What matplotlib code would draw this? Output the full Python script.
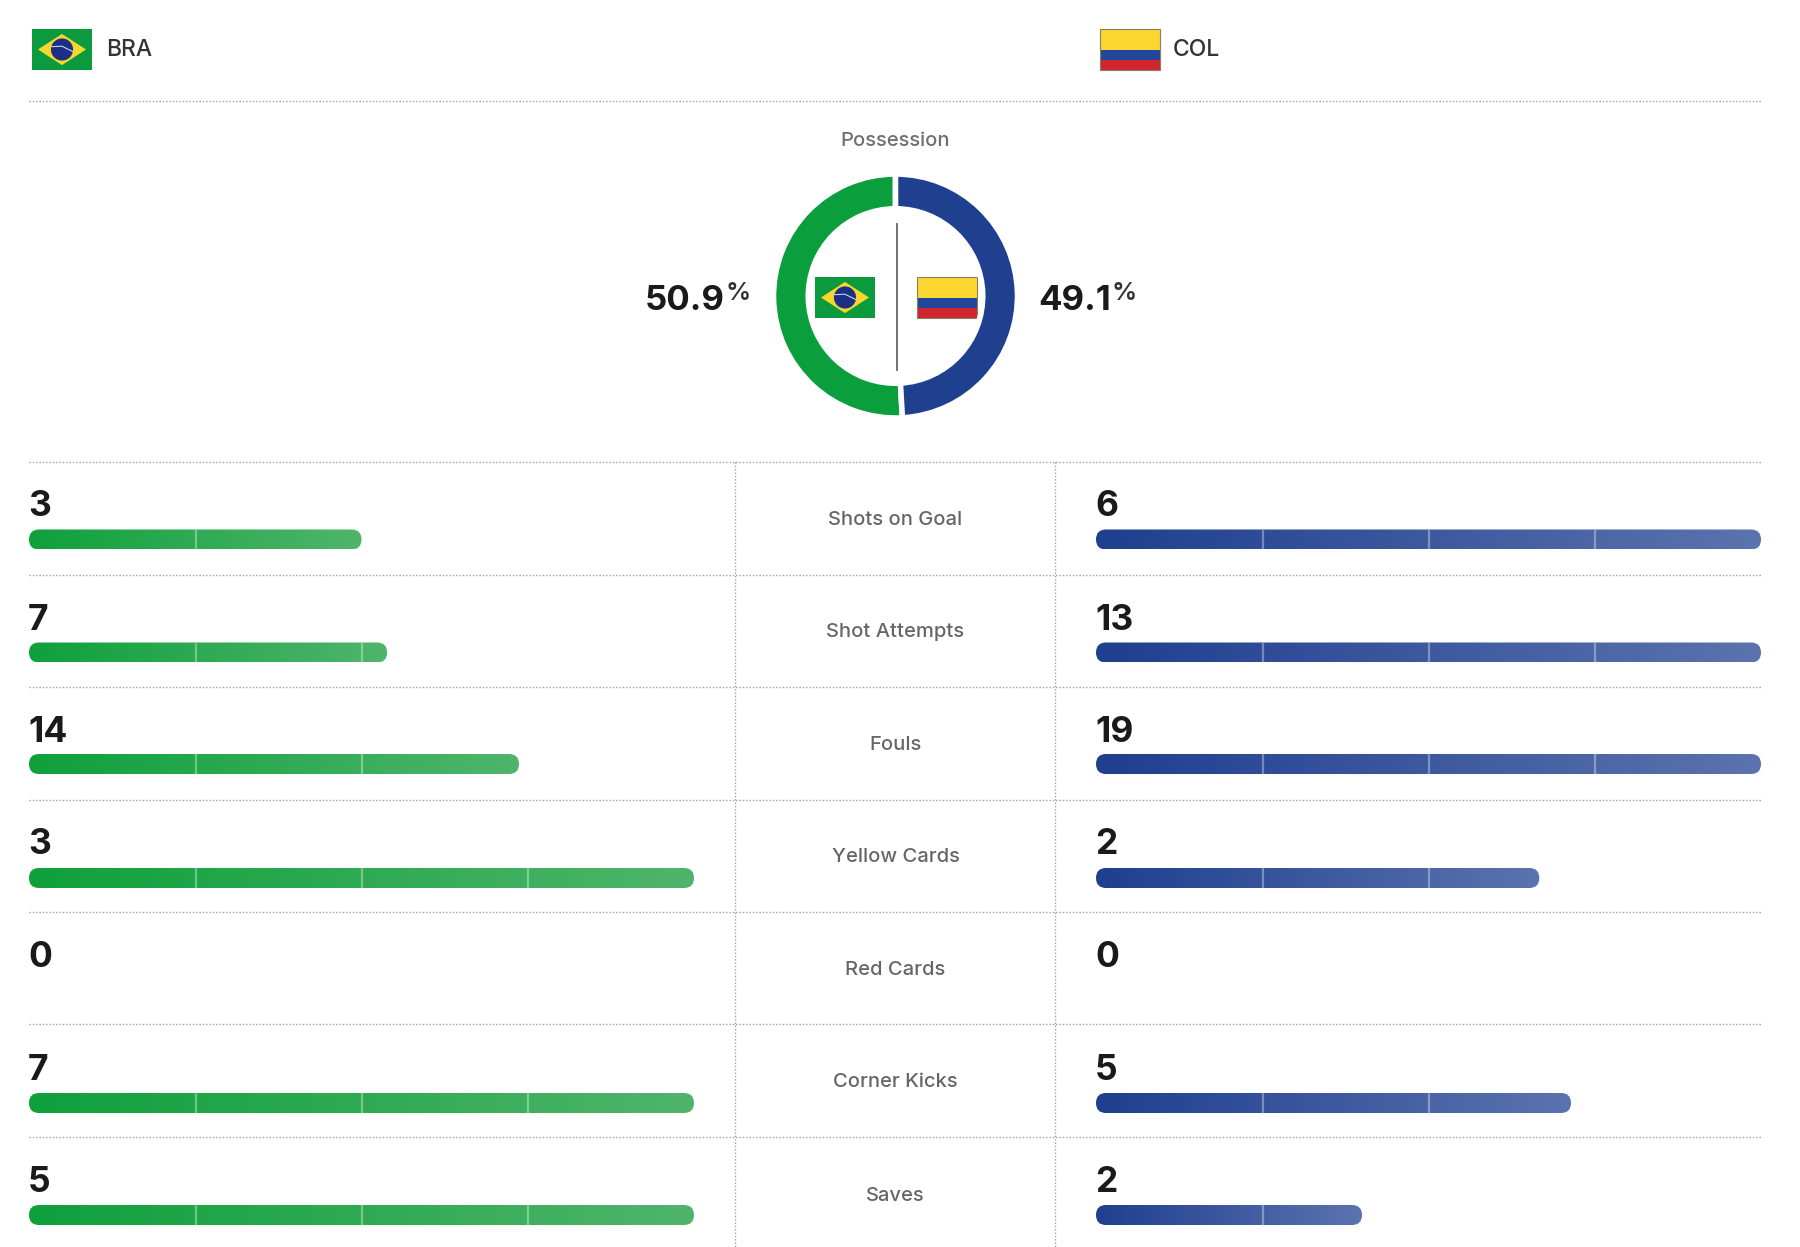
import numpy as np
import matplotlib
matplotlib.use('Agg')
import matplotlib.pyplot as plt
from matplotlib.colors import LinearSegmentedColormap
from matplotlib.patches import Rectangle, Polygon, Circle, FancyBboxPatch

teams = ['BRA', 'COL']
possession = [50.9, 49.1]
stat_names = ['Shots on Goal', 'Shot Attempts', 'Fouls', 'Yellow Cards', 'Red Cards', 'Corner Kicks', 'Saves']
bra_values = [3, 7, 14, 3, 0, 7, 5]
col_values = [6, 13, 19, 2, 0, 5, 2]

GREEN = '#0a9e3c'
BLUE = '#1f3f8f'
plt.rcParams['font.family'] = ['Inter', 'Roboto', 'DejaVu Sans']

W, H = 1800, 1247
LEFT, RIGHT = 29, 1761
BAR_W = 665
COL_X = 1096
ROW_TOPS = [462, 575, 687, 800, 912, 1024, 1137]
BAR_TOPS = [529.5, 642.5, 754, 868, 980, 1093, 1205]
NUM_Y = [507, 620, 732, 845, 957.5, 1070.5, 1182.5]
LABEL_Y = [520, 632, 745, 857, 970, 1082, 1196]

fig = plt.figure(figsize=(18, 12.47), dpi=100, facecolor='white')
ax = fig.add_axes([0, 0, 1, 1])
ax.set_xlim(0, W)
ax.set_ylim(H, 0)
ax.axis('off')

green_map = LinearSegmentedColormap.from_list('g', ['#0fa03c', '#4fb56b'])
blue_map = LinearSegmentedColormap.from_list('b', ['#1f3f8f', '#5b73ae'])
grad = np.linspace(0, 1, 256).reshape(1, -1)


def dotted(xs, ys):
    ax.plot(xs, ys, color='#a0a0a0', lw=1.0, ls=(0, (1, 1.4)), zorder=1)


def brazil(x, y, w=60, h=41):
    ax.add_patch(Rectangle((x, y), w, h, fc='#0b9b3e', ec='none', zorder=3))
    ax.add_patch(Polygon([(x + w * 0.1, y + h / 2), (x + w / 2, y + h * 0.12),
                          (x + w * 0.9, y + h / 2), (x + w / 2, y + h * 0.88)],
                         fc='#f7d72c', ec='none', zorder=4))
    ax.add_patch(Circle((x + w / 2, y + h / 2), h * 0.27, fc='#1c2f86', ec='none', zorder=5))
    ax.plot([x + w * 0.33, x + w * 0.5, x + w * 0.68],
            [y + h * 0.43, y + h * 0.42, y + h * 0.55], color='#c8d4e8', lw=0.8, zorder=6)


def colombia(x, y, w=60, h=41):
    ax.add_patch(Rectangle((x, y), w, h / 2, fc='#fbd62f', ec='none', zorder=3))
    ax.add_patch(Rectangle((x, y + h / 2), w, h / 4, fc='#21479b', ec='none', zorder=3))
    ax.add_patch(Rectangle((x, y + h * 0.75), w, h / 4, fc='#d0262f', ec='none', zorder=3))
    ax.add_patch(Rectangle((x, y), w, h, fc='none', ec='#8a8060', lw=0.8, zorder=4))


def stat_bar(x0, top, share, cmap):
    width = BAR_W * share
    box = FancyBboxPatch((x0, top), width, 20, boxstyle='round,pad=0,rounding_size=10',
                         fc='none', ec='none', zorder=2)
    ax.add_patch(box)
    im = ax.imshow(grad, cmap=cmap, extent=(x0, x0 + width, top + 20, top), aspect='auto', zorder=2)
    im.set_clip_path(box)
    # quarter marks of the full track
    for i in range(1, 4):
        mark = BAR_W * i / 4 + 0.5
        if mark < width - 2:
            ax.plot([x0 + mark, x0 + mark], [top, top + 20], color='white', alpha=0.35, lw=1.6,
                    solid_capstyle='butt', zorder=3)


# header
brazil(32, 29)
colombia(1100, 29)
ax.text(106, 50, teams[0], fontsize=16.5, color='#333333', weight='medium', va='center')
ax.text(1173, 50, teams[1], fontsize=16.5, color='#333333', weight='medium', va='center')
dotted([LEFT, RIGHT], [101, 101])

# possession ring
ax.text(895.5, 141, 'Possession', fontsize=14.5, color='#6f6f6f', weight='medium', ha='center', va='center')
R = 122
ax_pie = fig.add_axes([(895.5 - R) / W, 1 - (296 + R) / H, 2 * R / W, 2 * R / H])
ax_pie.pie(possession, colors=[GREEN, BLUE], startangle=90, counterclock=True, radius=1,
           wedgeprops=dict(width=0.285, edgecolor='white', linewidth=4))
ax_pie.set_xlim(-1, 1)
ax_pie.set_ylim(-1, 1)
ax.plot([896.5, 896.5], [224, 370], color='#666666', lw=1.3)
brazil(815, 277)
colombia(917, 277)

ax.text(725, 300.5, f'{possession[0]}', fontsize=25, weight='bold', color='#1a1a1a', ha='right', va='center')
ax.text(725, 293, '%', fontsize=18, weight='semibold', color='#333333', ha='left', va='center')
ax.text(1111, 300.5, f'{possession[1]}', fontsize=25, weight='bold', color='#1a1a1a', ha='right', va='center')
ax.text(1111, 293, '%', fontsize=18, weight='semibold', color='#333333', ha='left', va='center')

# stat rows
for top in ROW_TOPS:
    dotted([LEFT, RIGHT], [top, top])
dotted([735, 735], [ROW_TOPS[0], H])
dotted([1055, 1055], [ROW_TOPS[0], H])

for i, (name, b, c) in enumerate(zip(stat_names, bra_values, col_values)):
    ax.text(895.5, LABEL_Y[i], name, fontsize=14.5, color='#666666', weight='medium', ha='center', va='center')
    ax.text(LEFT - 1, NUM_Y[i], str(b), fontsize=25.5, weight='bold', color='#1a1a1a', va='center')
    ax.text(COL_X - 1, NUM_Y[i], str(c), fontsize=25.5, weight='bold', color='#1a1a1a', va='center')
    most = max(b, c)
    if most > 0:
        stat_bar(LEFT, BAR_TOPS[i], b / most, green_map)
        stat_bar(COL_X, BAR_TOPS[i], c / most, blue_map)

ax.set_xlim(0, W)
ax.set_ylim(H, 0)
fig.savefig('out.png', dpi=100)
